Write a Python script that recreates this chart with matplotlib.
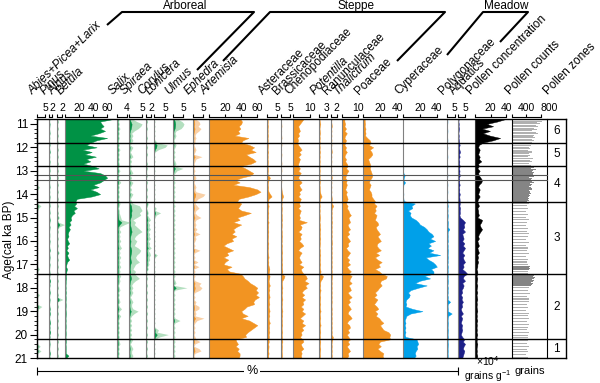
import matplotlib
matplotlib.use("Agg")
import numpy as np
import matplotlib.pyplot as plt
from matplotlib.lines import Line2D
from matplotlib.ticker import MultipleLocator

plt.rcParams['font.family'] = ['Liberation Sans', 'DejaVu Sans']
plt.rcParams['mathtext.fontset'] = 'custom'
plt.rcParams['mathtext.rm'] = 'Liberation Sans'
plt.rcParams['mathtext.it'] = 'Liberation Sans:italic'

# sample ages (cal ka BP)
ages = [10.8, 10.9, 11.0, 11.1, 11.2, 11.3, 11.4, 11.5, 11.6, 11.7,
        11.8, 11.9, 12.0, 12.1, 12.2, 12.3, 12.4, 12.5, 12.6, 12.7,
        12.8, 12.9, 13.0, 13.1, 13.2, 13.3, 13.4, 13.5, 13.6, 13.7,
        13.8, 13.9, 14.0, 14.1, 14.2, 14.3, 14.4, 14.5, 14.6, 14.7,
        14.8, 14.9, 15.0, 15.1, 15.2, 15.3, 15.4, 15.5, 15.6, 15.7,
        15.8, 15.9, 16.0, 16.1, 16.2, 16.3, 16.4, 16.5, 16.6, 16.7,
        16.8, 16.9, 17.0, 17.1, 17.2, 17.3, 17.4, 17.5, 17.6, 17.7,
        17.8, 17.9, 18.0, 18.1, 18.2, 18.3, 18.4, 18.5, 18.6, 18.7,
        18.8, 18.9, 19.0, 19.1, 19.2, 19.3, 19.4, 19.5, 19.6, 19.7,
        19.8, 19.9, 20.0, 20.1, 20.2, 20.3, 20.4, 20.5, 20.6, 20.7,
        20.8, 20.9, 21.0]

# pollen percentages (%)
abies = [0.1, 0.1, 0, 0.1, 0, 0.1, 0, 0.1, 0, 0.1,
         0, 0.1, 0, 0.1, 0, 0, 0.1, 0, 0.1, 0,
         0.1, 0, 0.1, 0, 0.1, 0, 0, 0.1, 0, 0.3,
         0.1, 0, 0.1, 0, 0.1, 0, 0.1, 0.5, 0.2, 0.1,
         0, 0.1, 0, 0.1, 0, 0.1, 0, 0.1, 0, 0.1,
         0, 0.1, 0, 0.1, 0, 0.1, 0, 0.1, 0, 0.1,
         0, 0.1, 0, 0.1, 0.3, 0.1, 0, 0.1, 0, 0.1,
         0, 0.1, 0, 0.1, 0, 0.3, 0.1, 0, 0.1, 0,
         0.6, 0.2, 0.1, 0, 0.1, 0, 0.1, 0, 0.1, 0,
         0.1, 0, 0.1, 0, 0.1, 0, 0.1, 0.4, 0.1, 0.5,
         0.1, 0, 0.1]
pinus = [0.3, 0.2, 0.4, 0.3, 0.2, 0.3, 0.4, 0.2, 0.3, 0.2,
         0.3, 0.4, 0.2, 0.3, 0.5, 0.2, 0.3, 0.2, 0.4, 0.3,
         0.2, 0.3, 0.4, 0.2, 0.3, 0.5, 0.3, 0.2, 0.3, 0.4,
         0.2, 0.3, 0.2, 0.4, 0.3, 0.2, 0.3, 0.4, 0.2, 0.3,
         0.4, 0.2, 0.3, 0.5, 0.3, 0.2, 0.4, 0.3, 0.2, 0.3,
         0.3, 0.2, 0.4, 0.3, 0.2, 0.3, 0.5, 0.2, 0.3, 0.4,
         0.3, 0.2, 0.4, 0.3, 0.2, 0.3, 0.4, 0.3, 0.2, 0.8,
         0.3, 0.4, 0.2, 0.3, 0.5, 0.3, 0.2, 0.4, 0.3, 0.2,
         0.3, 0.5, 0.3, 0.6, 0.3, 0.2, 0.4, 0.7, 0.3, 0.4,
         0.3, 0.8, 0.3, 0.4, 0.2, 0.3, 0.4, 0.3, 0.2, 0.3,
         0.6, 0.3, 0.4]
alnus = [0.1, 0.2, 0.1, 0.1, 0.2, 0.1, 0.1, 0.2, 0.1, 0.1,
         0.2, 0.1, 0.1, 0.2, 0.1, 0.1, 0.2, 0.1, 0.1, 0.2,
         0.1, 0.1, 0.2, 0.1, 0.1, 0.2, 0.1, 0.1, 0.2, 0.1,
         0.1, 0.2, 0.1, 0.1, 0.2, 0.1, 0.1, 0.2, 0.1, 0.1,
         0.2, 0.1, 0.3, 0.1, 0.2, 1.0, 0.3, 0.1, 0.2, 0.1,
         0.1, 0.2, 0.1, 0.1, 0.2, 0.1, 0.1, 0.3, 0.1, 0.1,
         0.2, 0.1, 0.1, 0.2, 0.1, 0.1, 0.2, 0.1, 0.1, 0.2,
         0.1, 0.1, 0.2, 0.1, 0.1, 0.2, 0.1, 0.8, 0.1, 0.1,
         0.2, 0.1, 0.1, 0.2, 0.1, 0.1, 0.2, 0.1, 0.1, 0.2,
         0.1, 0.1, 0.2, 0.1, 0.1, 0.2, 0.1, 0.1, 0.2, 0.1,
         0.1, 0.2, 0.1]
betula = [67, 50, 52, 55, 50, 57, 48, 36, 60, 45,
          37, 30, 45, 25, 38, 28, 44, 30, 36, 26,
          40, 48, 26, 50, 57, 60, 55, 50, 40, 48,
          36, 45, 50, 38, 17, 15, 16, 13, 17, 12,
          14, 10, 8, 9, 6, 8, 5, 7, 5, 4,
          5, 3, 4, 6, 3, 4, 2, 5, 3, 4,
          6, 3, 2, 1.5, 3, 2, 1.5, 1.2, 1.5, 1,
          1, 0.8, 1, 0.8, 1.2, 0.8, 1, 1, 0.8, 1,
          1, 0.8, 1, 1.2, 1, 0.8, 1, 0.8, 1, 1,
          0.8, 1, 1, 0.8, 1, 1.2, 0.8, 1, 1, 1,
          1, 5, 1.5]
salix = [0.3, 0.2, 0.3, 0.2, 0.4, 0.2, 0.3, 0.2, 0.3, 0.2,
         0.2, 0.3, 0.2, 0.4, 0.2, 0.3, 0.2, 0.3, 0.2, 0.3,
         0.3, 0.2, 0.4, 0.2, 0.3, 0.2, 0.3, 0.5, 0.2, 0.3,
         0.2, 0.3, 0.2, 0.3, 0.2, 0.3, 0.4, 0.3, 0.2, 0.3,
         0.3, 0.4, 0.5, 0.6, 1.8, 1.0, 0.4, 0.3, 0.5, 0.3,
         0.4, 0.3, 0.5, 0.3, 0.4, 0.6, 0.3, 0.4, 0.3, 0.5,
         0.3, 0.4, 0.3, 0.5, 0.3, 0.4, 0.3, 0.5, 0.3, 0.4,
         0.3, 0.2, 0.3, 0.4, 0.2, 0.3, 0.2, 0.3, 0.4, 0.2,
         0.3, 0.6, 0.3, 0.2, 0.5, 0.3, 0.2, 0.3, 0.2, 0.3,
         0.2, 0.3, 0.2, 0.3, 0.2, 0.3, 0.4, 0.2, 0.3, 0.2,
         0.3, 0.2, 0.3]
spiraea = [0.3, 0.6, 1.0, 0.9, 0.7, 0.4, 0.2, 0.3, 0.2, 0.3,
           0.2, 0.1, 0.3, 0.2, 0.1, 0.2, 0.3, 0.1, 0.2, 0.1,
           0.2, 0.1, 0.2, 0.3, 0.1, 0.2, 0.1, 0.3, 0.2, 0.1,
           0.2, 0.1, 0.3, 0.2, 0.1, 0.2, 0.3, 0.8, 0.9, 1.0,
           0.8, 0.9, 0.6, 0.3, 0.5, 0.4, 0.6, 0.8, 1.0, 0.7,
           0.5, 0.4, 0.6, 0.5, 0.4, 0.7, 0.9, 0.8, 0.6, 0.5,
           0.6, 0.8, 0.5, 0.4, 0.3, 0.5, 0.4, 0.6, 0.8, 0.5,
           0.3, 0.2, 0.3, 0.2, 0.3, 0.2, 0.1, 0.2, 0.3, 0.2,
           0.2, 0.3, 0.7, 0.4, 0.2, 0.1, 0.2, 0.1, 0.2, 0.1,
           0.2, 0.1, 0.2, 0.1, 0.3, 0.2, 0.1, 0.2, 0.3, 0.2,
           0.2, 0.3, 0.2]
corylus = [0.1, 0.2, 0.1, 0.1, 0.2, 0.1, 0.1, 0.1, 0.2, 0.1,
           0.1, 0.1, 0.2, 0.1, 0.1, 0.2, 0.1, 0.1, 0.1, 0.2,
           0.1, 0.2, 0.1, 0.1, 0.2, 0.1, 0.1, 0.2, 0.1, 0.1,
           0.2, 0.1, 0.1, 0.2, 0.1, 0.1, 0.3, 0.2, 0.1, 0.2,
           0.3, 0.2, 0.4, 0.6, 0.3, 0.5, 0.4, 0.6, 0.3, 0.5,
           0.4, 0.6, 0.3, 0.5, 0.4, 0.7, 0.3, 0.5, 0.6, 0.4,
           0.5, 0.3, 0.4, 0.2, 0.3, 0.1, 0.2, 0.1, 0.2, 0.1,
           0.1, 0.2, 0.1, 0.1, 0.2, 0.1, 0.1, 0.2, 0.1, 0.1,
           0.2, 0.1, 0.1, 0.2, 0.1, 0.1, 0.2, 0.1, 0.1, 0.2,
           0.1, 0.1, 0.2, 0.1, 0.1, 0.2, 0.1, 0.1, 0.2, 0.1,
           0.1, 0.2, 0.1]
lonicera = [0, 0.1, 0, 0.1, 0, 0.1, 0, 0.1, 0, 0.1,
            0.3, 1.2, 1.0, 0.4, 0.1, 0, 0.1, 0, 0.1, 0,
            0.1, 0, 0.1, 0, 0.1, 0, 0.1, 0, 0.1, 0,
            0.1, 0, 0.1, 0, 0.1, 0, 0.1, 0, 0.2, 0.1,
            0.6, 0.2, 0.1, 0, 0.1, 0, 0.1, 0, 0.1, 0,
            0.1, 0, 0.1, 0, 0.1, 0, 0.1, 0, 0.3, 0.1,
            0, 0.1, 0, 0.1, 0, 0.1, 0, 0.1, 0, 0.1,
            0, 0.1, 0, 0.1, 0, 0.1, 0, 0.1, 0, 0.1,
            0, 0.1, 0, 0.1, 0, 0.1, 0, 0.1, 0, 0.1,
            0.4, 0.3, 1.3, 0.5, 0.1, 0, 0.1, 0, 0.1, 0,
            0.1, 0, 0.1]
ulmus = [0.5, 0.9, 1.1, 1.0, 0.8, 0.3, 0.2, 0.3, 0.2, 0.1,
         0.2, 0.3, 0.2, 0.1, 0.2, 0.1, 0.2, 0.1, 0.2, 0.3,
         0.2, 1.0, 0.4, 0.2, 0.1, 0.2, 0.1, 0.2, 0.1, 0.2,
         0.1, 0.2, 0.1, 0.2, 0.1, 0.2, 0.1, 0.2, 0.1, 0.2,
         0.1, 0.2, 0.1, 0.2, 0.1, 0.2, 0.1, 0.2, 0.1, 0.2,
         0.1, 0.2, 0.1, 0.2, 0.1, 0.2, 0.1, 0.2, 0.1, 0.2,
         0.1, 0.2, 0.1, 0.2, 0.1, 0.2, 0.1, 0.2, 0.1, 0.2,
         0.3, 0.1, 1.4, 0.2, 0.1, 0.2, 0.1, 0.2, 0.1, 0.2,
         0.1, 0.2, 0.1, 0.2, 0.1, 0.2, 0.7, 0.2, 0.1, 0.2,
         0.1, 0.2, 0.1, 0.2, 0.1, 0.2, 0.1, 0.2, 0.1, 0.2,
         0.1, 0.2, 0.1]
ephedra = [0.3, 0.6, 0.7, 0.5, 0.8, 0.6, 0.3, 0.2, 0.3, 0.2,
           0.2, 0.1, 0.2, 0.3, 0.2, 0.1, 0.9, 0.3, 0.2, 0.1,
           0.2, 0.1, 0.2, 0.1, 0.2, 0.3, 0.2, 0.1, 0.2, 0.3,
           0.2, 0.3, 1.2, 1.0, 0.5, 0.3, 0.2, 0.4, 0.6, 0.3,
           0.2, 0.4, 0.8, 0.3, 0.2, 0.3, 0.2, 0.4, 0.2, 0.7,
           0.2, 0.3, 0.2, 0.1, 0.2, 0.1, 0.7, 0.2, 0.1, 0.2,
           0.1, 0.5, 0.1, 0.6, 0.1, 0.2, 0.1, 0.2, 0.1, 0.2,
           0.8, 0.6, 0.9, 0.7, 0.2, 0.1, 0.2, 0.1, 0.3, 0.2,
           0.6, 0.6, 0.2, 0.3, 0.2, 1.1, 0.4, 0.2, 0.1, 0.2,
           0.1, 0.2, 0.1, 0.2, 0.3, 0.7, 0.2, 0.1, 0.6, 0.8,
           0.2, 0.1, 0.2]
artemisia = [39, 41, 40, 37, 39, 36, 38, 32, 49, 42,
             40, 50, 56, 52, 58, 46, 50, 55, 58, 52,
             39, 45, 50, 55, 52, 40, 33, 38, 30, 50,
             60, 64, 58, 49, 37, 35, 40, 38, 36, 40,
             52, 44, 35, 38, 30, 40, 34, 30, 32, 28,
             34, 28, 30, 22, 18, 24, 30, 22, 24, 18,
             24, 20, 18, 28, 22, 25, 39, 42, 44, 48,
             51, 56, 60, 58, 61, 58, 62, 57, 55, 56,
             47, 44, 40, 42, 48, 40, 50, 55, 60, 56,
             52, 48, 45, 46, 33, 34, 36, 33, 37, 35,
             38, 38, 37]
asteraceae = [0.3, 0.4, 0.3, 0.5, 0.3, 0.4, 0.3, 0.5, 0.3, 0.4,
              0.3, 0.5, 0.4, 0.3, 0.6, 0.3, 0.4, 0.3, 0.5, 0.4,
              0.3, 0.4, 0.5, 0.3, 0.6, 1.5, 0.8, 0.5, 0.4, 0.6,
              0.5, 0.8, 1.5, 2.3, 0.8, 0.6, 0.5, 0.8, 0.6, 0.5,
              0.7, 0.5, 0.6, 0.4, 0.8, 0.5, 0.6, 0.5, 0.7, 0.5,
              0.6, 0.5, 0.4, 0.7, 0.5, 0.6, 0.4, 0.5, 0.6, 0.8,
              0.5, 0.7, 0.6, 0.9, 1.2, 1.0, 0.8, 1.3, 1.1, 0.8,
              1.0, 1.4, 0.9, 1.2, 0.8, 1.1, 1.3, 0.9, 1.0, 1.2,
              0.8, 1.1, 1.3, 0.9, 1.2, 0.8, 1.0, 1.4, 0.9, 1.1,
              0.9, 1.2, 0.8, 1.0, 0.7, 0.9, 0.6, 0.8, 0.7, 0.6,
              0.8, 0.6, 0.7]
brassicaceae = [0.2, 0.1, 0.2, 0.3, 0.1, 0.2, 0.1, 0.2, 0.3, 0.1,
                0.2, 0.3, 0.1, 0.2, 0.1, 0.3, 0.2, 0.1, 0.2, 0.3,
                0.1, 0.2, 0.3, 0.1, 0.2, 0.1, 0.3, 0.2, 0.1, 0.2,
                0.3, 0.5, 0.8, 1.2, 0.6, 0.3, 0.4, 0.3, 0.5, 0.4,
                0.3, 0.5, 0.4, 0.6, 0.3, 0.5, 0.4, 0.3, 0.5, 0.4,
                0.6, 0.4, 0.5, 0.3, 0.6, 0.4, 0.5, 0.7, 0.4, 0.5,
                0.6, 0.4, 0.7, 0.5, 0.6, 0.8, 0.5, 2.0, 1.5, 0.7,
                0.5, 0.6, 0.8, 0.5, 0.7, 0.4, 0.6, 0.8, 0.5, 0.6,
                0.4, 0.6, 0.8, 0.5, 0.7, 0.4, 0.6, 0.5, 0.7, 0.4,
                0.5, 0.7, 0.4, 0.6, 0.5, 0.8, 0.4, 0.6, 0.5, 0.4,
                0.5, 0.6, 0.4]
chenopodiaceae = [6, 5, 4, 3, 3.5, 4, 3, 3.5, 2.5, 3,
                  2.5, 3, 4, 5, 3.5, 4.5, 3, 4, 3.5, 3,
                  3, 4, 3, 4.5, 3.5, 3, 4, 5, 3.5, 4,
                  5, 3.5, 4, 3, 4.5, 4, 3.5, 4, 3, 4.5,
                  4, 3.5, 4, 3.5, 8, 4, 5, 4.5, 3, 5,
                  4, 4.5, 3.5, 5, 6, 4, 3, 5, 4, 3.5,
                  4, 5, 3.5, 6, 4.5, 5, 6, 7.5, 8, 6.5,
                  9, 7, 8, 6, 5, 6.5, 5, 7, 5.5, 6,
                  4.5, 6, 5, 7, 5.5, 4, 6, 5, 7, 5,
                  6, 4.5, 5, 4, 5.5, 6, 4.5, 5, 6, 4.5,
                  5, 4.5, 5]
potentilla = [0.2, 0.3, 0.5, 0.3, 0.2, 0.3, 0.4, 0.2, 0.3, 0.2,
              0.3, 0.2, 0.3, 0.2, 0.4, 0.2, 0.3, 0.2, 0.3, 0.2,
              0.3, 0.2, 0.3, 0.2, 0.3, 0.2, 0.4, 0.3, 0.2, 0.3,
              0.3, 0.4, 0.6, 1.0, 0.4, 0.3, 0.2, 0.3, 0.2, 0.3,
              0.2, 0.3, 0.4, 0.3, 0.2, 0.4, 0.3, 0.5, 0.3, 0.4,
              0.3, 0.5, 0.3, 0.4, 0.3, 0.2, 0.4, 0.3, 0.5, 0.3,
              0.4, 0.3, 0.5, 0.3, 0.4, 0.6, 0.4, 1.5, 1.2, 0.6,
              0.4, 0.5, 0.3, 0.6, 0.4, 0.3, 0.5, 0.4, 0.3, 0.5,
              0.3, 0.4, 0.6, 0.3, 0.4, 0.5, 0.3, 0.4, 0.6, 0.3,
              0.4, 0.5, 0.3, 0.4, 0.3, 0.5, 0.4, 0.3, 0.5, 0.4,
              0.3, 0.4, 0.3]
ranunculaceae = [0.2, 0.1, 0.2, 0.3, 0.1, 0.2, 0.1, 0.2, 0.1, 0.2,
                 0.1, 0.2, 0.1, 0.2, 0.3, 0.1, 0.2, 0.1, 0.2, 0.1,
                 0.2, 0.1, 0.2, 0.1, 0.2, 0.3, 0.1, 0.2, 0.1, 0.2,
                 0.1, 0.2, 0.1, 0.2, 0.3, 0.2, 0.3, 0.8, 0.4, 0.2,
                 0.3, 0.2, 0.3, 0.2, 0.4, 0.2, 0.3, 0.2, 0.3, 0.2,
                 0.3, 0.2, 0.3, 0.4, 0.2, 0.3, 0.2, 0.3, 0.2, 0.3,
                 0.2, 0.3, 0.2, 0.3, 0.2, 0.3, 0.2, 0.4, 0.3, 0.2,
                 0.3, 0.2, 0.3, 0.2, 0.3, 0.2, 0.3, 0.2, 0.3, 0.2,
                 0.2, 0.3, 0.2, 0.3, 0.2, 0.3, 0.2, 0.3, 0.2, 0.3,
                 0.2, 0.3, 0.2, 0.7, 0.5, 0.3, 0.2, 0.3, 0.2, 0.3,
                 0.2, 0.3, 0.2]
thalictrum = [1.5, 1.5, 2, 1.5, 2.5, 1.5, 3, 2, 1.5, 2.5,
              2, 1.5, 2.5, 2, 3, 2, 1.5, 2.5, 2, 3,
              3.5, 2.5, 4, 3, 2.5, 2, 3, 2.5, 3, 2.5,
              2, 3, 2.5, 3, 3.5, 3, 2.5, 3.5, 3, 4,
              4.5, 5.5, 4, 4.5, 5, 3.5, 4, 5, 3.5, 4.5,
              3, 4, 5, 3.5, 4, 2.5, 3.5, 5, 4, 3,
              4.5, 3.5, 5, 3, 4, 5.5, 4, 6, 5, 4.5,
              6, 4, 5, 5.5, 3.5, 4.5, 6, 4, 5, 3.5,
              4.5, 5.5, 4, 3.5, 5, 6, 4, 3, 4.5, 5,
              3.5, 4.5, 3, 4, 5, 3.5, 4.5, 3, 4, 5,
              3.5, 4, 3]
poaceae = [2, 2, 2.5, 2, 3, 2.5, 3, 2.5, 5, 8,
           9, 7, 12, 8, 10, 11, 9, 6, 7, 8,
           9, 8, 9, 10, 11, 10, 8, 7, 9, 8,
           7, 9, 10, 10, 12, 14, 13, 16, 14, 15,
           13, 16, 15, 14, 17, 18, 15, 16, 18, 20,
           17, 19, 21, 17, 16, 18, 21, 15, 19, 14,
           17, 22, 18, 20, 14, 19, 22, 28, 27, 21,
           20, 22, 19, 17, 14, 16, 13, 17, 15, 13,
           16, 18, 14, 17, 15, 19, 21, 24, 20, 22,
           24, 30, 32, 31, 32, 20, 18, 21, 17, 20,
           24, 23, 24]
cyperaceae = [0.2, 0.2, 0.1, 0.2, 0.2, 0.1, 0.2, 0.2, 0.1, 0.2,
              0.2, 0.1, 0.2, 0.2, 0.1, 0.2, 0.2, 0.1, 0.2, 0.2,
              0.3, 0.5, 0.3, 0.5, 2, 1, 0.5, 2.5, 0.5, 0.3,
              0.3, 0.3, 0.5, 0.3, 0.5, 1, 14, 10, 11, 6,
              9, 8, 10, 15, 18, 20, 25, 28, 30, 34,
              36, 32, 38, 30, 33, 29, 36, 31, 44, 27,
              30, 35, 38, 40, 33, 36, 36, 25, 32, 20,
              14, 28, 18, 9, 6, 8, 7, 4, 3, 4,
              3, 11, 23, 9, 4, 3, 2, 3, 2, 3,
              2, 3, 2, 3, 16, 17, 18, 16, 17, 15,
              14, 15, 13]
polygonaceae = [0.2, 0.3, 0.2, 0.1, 0.2, 0.3, 0.2, 0.1, 0.2, 0.3,
                0.2, 0.1, 0.3, 0.2, 0.1, 0.2, 0.3, 0.2, 0.1, 0.2,
                0.3, 0.2, 0.1, 0.2, 0.3, 0.2, 0.1, 0.2, 0.3, 0.2,
                0.2, 0.3, 0.2, 0.1, 0.2, 0.4, 0.3, 0.5, 0.3, 0.4,
                0.3, 0.5, 0.4, 0.3, 0.6, 0.5, 0.4, 1.5, 0.5, 0.4,
                0.5, 0.4, 0.6, 0.3, 0.5, 0.4, 0.6, 0.5, 0.4, 0.6,
                0.4, 0.5, 0.3, 0.6, 0.4, 0.5, 0.3, 0.5, 0.4, 0.6,
                0.5, 0.3, 0.6, 0.4, 0.5, 0.3, 0.6, 0.4, 2.0, 0.5,
                0.4, 0.6, 0.5, 3.0, 0.8, 0.5, 0.4, 0.6, 0.5, 0.4,
                0.6, 0.5, 0.4, 0.6, 0.5, 0.4, 0.6, 0.5, 0.4, 0.5,
                0.4, 0.5, 0.4]
aquatics = [0.5, 0.3, 0.6, 0.4, 0.8, 0.5, 0.3, 0.6, 0.4, 0.7,
            0.8, 1.2, 0.7, 1, 1.5, 0.8, 1.2, 0.6, 1, 0.8,
            1.3, 0.7, 1.1, 0.9, 1.4, 0.6, 1, 0.8, 1.2, 0.7,
            1, 0.8, 1.3, 0.9, 1.1, 1.2, 1.3, 1, 1.5, 1.2,
            1.4, 1, 1.6, 3.5, 5, 4, 4.5, 3.5, 5, 3,
            3.5, 4, 3, 4.5, 3.5, 5, 4, 3, 4.5, 3.5,
            4, 5, 3.5, 4, 3, 5, 6.5, 4, 3.5, 5,
            3, 4, 3.5, 2.5, 3, 2, 3, 2.5, 3.5, 2.5,
            3, 2, 2.5, 3.5, 2, 3, 2.5, 2, 3, 2.5,
            3, 2.5, 2, 3, 4.5, 3.5, 5, 4, 3.5, 4.5,
            4, 3.5, 3]
# pollen concentration (x10^4 grains/g)
concentration = [38, 28, 15, 23, 9, 19, 10, 19, 32, 23,
                 10, 5, 4, 6, 5, 4, 6, 5, 8, 4,
                 5, 3, 6, 4, 5, 7, 9, 8, 5, 4,
                 6, 5, 4, 6, 4, 3, 4, 5, 3, 4,
                 4, 5, 3, 9, 8, 6, 7, 9, 7, 5,
                 4, 5, 3, 4, 5, 3, 4, 5, 3, 4,
                 3, 4, 3, 3, 2, 3, 3, 2, 3, 2.5,
                 2, 3, 2.5, 2, 3, 2, 2.5, 3, 2, 2.5,
                 2, 2.5, 3, 2, 2.5, 2, 3, 2, 2.5, 2,
                 2.5, 2, 3, 2, 2.5, 2, 3, 2.5, 2, 2.5,
                 2, 3, 2.5]

# pollen counts (grains) per sample
count_ages = [10.82, 10.88, 10.94, 11.0, 11.06, 11.12, 11.18, 11.24, 11.3, 11.36,
              11.42, 11.48, 11.54, 11.6, 11.66, 11.72, 11.78,
              11.85, 11.92, 11.99, 12.06, 12.13, 12.2, 12.27, 12.34, 12.41,
              12.48, 12.55, 12.62, 12.69, 12.76,
              12.82, 12.86, 12.9, 12.94, 12.98, 13.02, 13.06, 13.1, 13.14, 13.2,
              13.24, 13.28, 13.32, 13.36, 13.42, 13.46, 13.5, 13.54, 13.58, 13.62,
              13.66, 13.7, 13.74, 13.78, 13.82, 13.86, 13.9, 13.94, 13.98, 14.02,
              14.06, 14.1, 14.14, 14.18, 14.22, 14.26, 14.3,
              14.38, 14.5, 14.62, 14.74, 14.86, 14.98, 15.1, 15.22, 15.34, 15.46,
              15.58, 15.7, 15.82, 15.94, 16.06, 16.18, 16.3, 16.42, 16.54, 16.66,
              16.78, 16.9, 17.02, 17.1, 17.14, 17.18, 17.22, 17.3, 17.38,
              17.44, 17.48, 17.52, 17.56, 17.6, 17.64, 17.68, 17.72, 17.76, 17.8,
              17.84, 17.88, 17.92,
              18.0, 18.12, 18.24, 18.36, 18.48, 18.6, 18.72, 18.84, 18.96, 19.08,
              19.2, 19.32, 19.44, 19.56, 19.68, 19.8, 19.92, 20.04, 20.14,
              20.26, 20.38, 20.5, 20.62, 20.74, 20.86, 20.98]
counts = [780, 830, 700, 760, 650, 720, 610, 690, 560, 650,
          710, 620, 580, 640, 560, 600, 540,
          480, 520, 460, 500, 430, 540, 470, 510, 450,
          580, 490, 540, 470, 520,
          560, 610, 520, 660, 580, 540, 620, 500, 570, 530,
          600, 480, 550, 520, 590, 540, 620, 500, 560, 530,
          480, 520, 560, 500, 540, 470, 510, 490, 530, 460,
          500, 480, 440, 470, 430, 460, 420,
          470, 420, 450, 380, 440, 400, 460, 420, 390, 450,
          410, 470, 430, 400, 460, 380, 440, 420, 470, 400,
          450, 410, 430, 500, 460, 490, 470, 430, 450,
          560, 620, 580, 640, 600, 550, 610, 570, 530, 590,
          540, 500, 520,
          470, 430, 500, 410, 460, 480, 420, 450, 400, 470,
          430, 460, 410, 480, 440, 420, 460, 430, 450,
          440, 410, 460, 420, 450, 400, 430]

zone_bounds = [11.81, 12.8, 14.33, 17.41, 20.19]
minor_bounds = [13.18, 13.39]
zone_names = ['6', '5', '4', '3', '2', '1']

GREEN, LGREEN = '#009245', '#b3dfbf'
ORANGE, LORANGE = '#f29422', '#f9d0a6'
BLUE, NAVY = '#00a0e9', '#1d2088'

W, H = 600, 383
TOP, BOT = 119, 358
AGE_TOP, AGE_BOT = 10.79, 21.0

fig = plt.figure(figsize=(W / 100, H / 100), dpi=100)


def column(x0, x1, xmax, edge='#808080'):
    ax = fig.add_axes([x0 / W, 1 - BOT / H, (x1 - x0) / W, (BOT - TOP) / H])
    ax.set_xlim(0, xmax)
    ax.set_ylim(AGE_BOT, AGE_TOP)
    ax.patch.set_visible(False)
    ax.spines['right'].set_visible(False)
    ax.spines['bottom'].set_visible(False)
    ax.spines['left'].set_color(edge)
    ax.spines['left'].set_linewidth(0.8)
    ax.set_yticks([])
    return ax


def bracket(ax, ticks):
    sp = ax.spines['top']
    sp.set_position(('outward', 1.5))
    sp.set_bounds(0, ticks[-1])
    sp.set_linewidth(0.8)
    ax.xaxis.tick_top()
    ax.set_xticks([0] + ticks)
    ax.set_xticklabels([''] + [str(t) for t in ticks])
    ax.tick_params(axis='x', length=2.5, width=0.8, pad=0.5, labelsize=7.5)


# (name, italic, x0, x1, xmax, ticks, values, colour, light colour, exaggeration)
columns = [
    ('Abies+Picea+Larix', True, 37, 49, 7.5, [5], abies, GREEN, LGREEN, 5),
    ('Pinus', True, 49, 57, 5, [2], pinus, GREEN, LGREEN, 0),
    ('Alnus', True, 57, 65, 3.2, [2], alnus, GREEN, LGREEN, 3),
    ('Betula', True, 65, 117, 74, [20, 40, 60], betula, GREEN, LGREEN, 0),
    ('Salix', True, 117, 129, 4.8, [4], salix, GREEN, LGREEN, 3),
    ('Spiraea', True, 129, 146, 6.5, [5], spiraea, GREEN, LGREEN, 5),
    ('Corylus', True, 146, 154, 3.2, [2], corylus, GREEN, LGREEN, 3),
    ('Lonicera', True, 154, 173, 8.6, [5], lonicera, GREEN, LGREEN, 5),
    ('Ulmus', True, 173, 193, 10, [5], ulmus, GREEN, LGREEN, 5),
    ('Ephedra', True, 193, 209, 8, [5], ephedra, ORANGE, LORANGE, 5),
    ('Artemisia', True, 209, 267, 72, [20, 40, 60], artemisia, ORANGE, LORANGE, 0),
    ('Asteraceae', False, 267, 281, 7, [5], asteraceae, ORANGE, LORANGE, 0),
    ('Brassicaceae', False, 281, 293, 6.7, [5], brassicaceae, ORANGE, LORANGE, 0),
    ('Chenopodiaceae', False, 293, 319, 15, [10], chenopodiaceae, ORANGE, LORANGE, 0),
    ('Potentilla', True, 319, 331, 4.5, [3], potentilla, ORANGE, LORANGE, 0),
    ('Ranunculaceae', False, 331, 342, 4, [2], ranunculaceae, ORANGE, LORANGE, 0),
    ('Thalictrum', True, 342, 363, 13, [10], thalictrum, ORANGE, LORANGE, 0),
    ('Poaceae', False, 363, 403, 47, [20, 40], poaceae, ORANGE, LORANGE, 0),
    ('Cyperaceae', False, 403, 447, 52, [20, 40], cyperaceae, BLUE, BLUE, 0),
    ('Polygonaceae', False, 447, 458, 7, [5], polygonaceae, BLUE, BLUE, 0),
    ('Aquatics', False, 458, 475, 12, [5], aquatics, NAVY, NAVY, 0),
]

for name, ital, x0, x1, xmax, ticks, vals, col, lcol, ex in columns:
    ax = column(x0, x1, xmax)
    v = np.array(vals, dtype=float)
    if ex:
        ax.fill_betweenx(ages, 0, v * ex, color=lcol, lw=0)
    ax.fill_betweenx(ages, 0, v, color=col, lw=0.3, edgecolor=col)
    bracket(ax, ticks)
    fig.text((x0 - 2) / W, 1 - 97 / H, name, rotation=45, rotation_mode='anchor',
             ha='left', va='bottom', fontsize=8.5,
             style='italic' if ital else 'normal')

# pollen concentration
ax = column(475, 512, 47, edge='#333333')
ax.fill_betweenx(ages, 0, concentration, color='black', lw=0.3)
bracket(ax, [20, 40])
fig.text(473 / W, 1 - 97 / H, 'Pollen concentration', rotation=45,
         rotation_mode='anchor', ha='left', va='bottom', fontsize=8.5)

# pollen counts
ax = column(512, 547, 966, edge='black')
ca = np.array(count_ages)
gap = np.minimum(np.diff(ca, prepend=-1), np.diff(ca, append=99))
shade = ['#858585' if g < 0.05 else '#b0b0b0' for g in gap]
ax.barh(count_ages, counts, height=0.045, color=shade, lw=0)
bracket(ax, [400, 800])
ax.get_xticklabels()[2].set_horizontalalignment('left')
fig.text(512 / W, 1 - 97 / H, 'Pollen counts', rotation=45,
         rotation_mode='anchor', ha='left', va='bottom', fontsize=8.5)

# pollen zones
ax = column(547, 566, 1, edge='black')
ax.spines['top'].set_visible(False)
ax.set_xticks([])
edges = [AGE_TOP] + zone_bounds + [AGE_BOT]
for i, z in enumerate(zone_names):
    ax.text(0.5, (edges[i] + edges[i + 1]) / 2, z, transform=ax.get_yaxis_transform(),
            ha='center', va='center', fontsize=8.5)
fig.text(550 / W, 1 - 97 / H, 'Pollen zones', rotation=45,
         rotation_mode='anchor', ha='left', va='bottom', fontsize=8.5)

# frame with age axis and zone lines
frame = fig.add_axes([37 / W, 1 - BOT / H, (566 - 37) / W, (BOT - TOP) / H])
frame.patch.set_visible(False)
frame.set_ylim(AGE_BOT, AGE_TOP)
frame.set_xlim(0, 1)
frame.set_xticks([])
for s in frame.spines.values():
    s.set_linewidth(1.0)
frame.set_yticks(range(11, 22))
frame.yaxis.set_minor_locator(MultipleLocator(0.2))
frame.tick_params(axis='y', which='major', length=5, width=0.8, labelsize=8.5, pad=1.5)
frame.tick_params(axis='y', which='minor', length=2.5, width=0.6)
for b in zone_bounds:
    frame.axhline(b, color='black', lw=1.0)
for b in minor_bounds:
    frame.axhline(b, xmax=(547 - 37) / (566 - 37), color='#555555', lw=0.8)
fig.text(9 / W, 1 - 240 / H, 'Age(cal ka BP)', rotation=90, ha='center',
         va='center', fontsize=8.5)


def fig_line(px, py, lw=1.5):
    fig.add_artist(Line2D([p / W for p in px], [1 - q / H for q in py],
                          color='black', lw=lw, solid_capstyle='butt'))


# group brackets
fig_line([107, 122, 254, 197], [25, 12, 12, 70])
fig.text(185 / W, 1 - 6 / H, 'Arboreal', ha='center', va='center', fontsize=8.5)
fig_line([223, 270, 445, 397], [61, 12, 12, 61])
fig.text(356 / W, 1 - 6 / H, 'Steppe', ha='center', va='center', fontsize=8.5)
fig_line([447, 483, 528, 500], [55, 12, 12, 42])
fig.text(506 / W, 1 - 6 / H, 'Meadow', ha='center', va='center', fontsize=8.5)

# bottom units
fig_line([37, 458], [371, 371], lw=0.8)
fig_line([37, 37], [367, 375], lw=0.8)
fig_line([458, 458], [367, 375], lw=0.8)
fig.text(252 / W, 1 - 371 / H, '%', ha='center', va='center', fontsize=9,
         bbox=dict(facecolor='white', edgecolor='none', pad=2))
fig.text(488 / W, 1 - 369 / H, '$\\times$10$^{4}$\ngrains g$^{-1}$', ha='center',
         va='center', fontsize=7.5, linespacing=1.0)
fig.text(530 / W, 1 - 371 / H, 'grains', ha='center', va='center', fontsize=8)

fig.savefig('out.png', dpi=100)
